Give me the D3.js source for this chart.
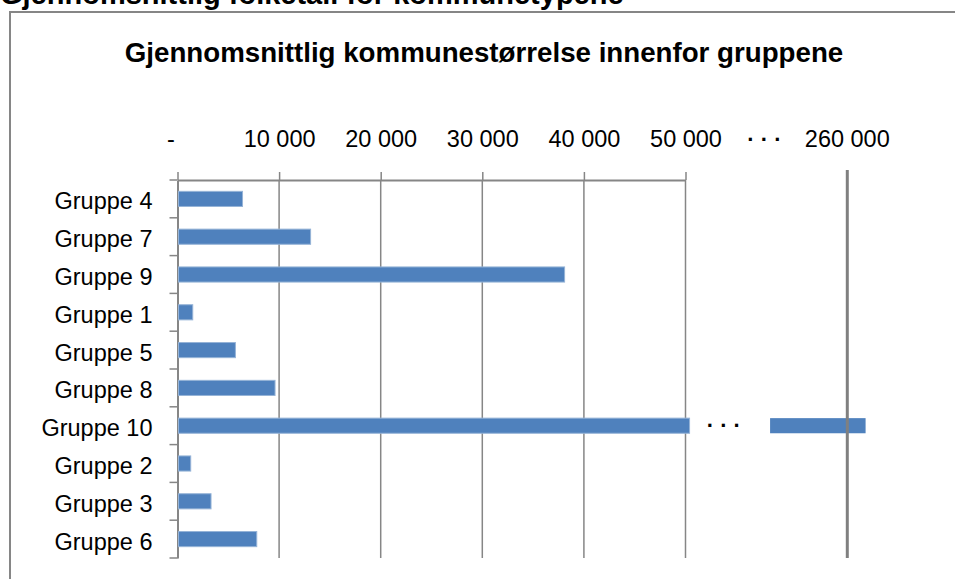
<!DOCTYPE html>
<meta charset="utf-8">
<script src="https://d3js.org/d3.v7.min.js"></script>
<style>
  body { margin: 0; background: #fff; }
  svg { display: block; font-family: "Liberation Sans", Arial, sans-serif; }
</style>
<div id="my_dataviz"></div>
<script>
// data
var categories = ["Gruppe 4", "Gruppe 7", "Gruppe 9", "Gruppe 1", "Gruppe 5",
                  "Gruppe 8", "Gruppe 10", "Gruppe 2", "Gruppe 3", "Gruppe 6"];
var values = [6400, 13100, 38100, 1500, 5700, 9600, 261800, 1300, 3300, 7800];
var lowTicks = [0, 10000, 20000, 30000, 40000, 50000];
var highTicks = [260000];
var breakLow = 50400, breakHigh = 252400;   // axis is cut between these

var pageTitle = "Gjennomsnittlig folketall for kommunetypene";
var chartTitle = "Gjennomsnittlig kommunestørrelse innenfor gruppene";

var W = 955, H = 579;
var svg = d3.select("#my_dataviz").append("svg")
    .attr("width", W).attr("height", H);

// text above the chart frame, cut off by the top of the page
svg.append("text")
    .attr("x", 0).attr("y", 4)
    .attr("font-size", "29px").attr("font-weight", "bold")
    .text(pageTitle);

// chart frame
svg.append("rect")
    .attr("x", 10).attr("y", 12)
    .attr("width", 1000).attr("height", 600)
    .attr("fill", "none").attr("stroke", "#868686").attr("stroke-width", 2);

svg.append("text")
    .attr("x", 484).attr("y", 62)
    .attr("text-anchor", "middle")
    .attr("font-size", "27.7px").attr("font-weight", "bold")
    .text(chartTitle);

var axisTop = 180, axisBottom = 558;

// scales: low part and high part share the same px per unit
var x = d3.scaleLinear().domain([0, 50000]).range([177.5, 685.5]);
var pxPerUnit = (x(50000) - x(0)) / 50000;
var x2 = d3.scaleLinear().domain([250000, 270000])
    .range([847.3 - 10000 * pxPerUnit, 847.3 + 10000 * pxPerUnit]);

var yb = d3.scaleBand().domain(categories).range([axisTop, axisBottom]);
var y = d3.scaleBand().domain(categories).range([axisTop, axisBottom])
    .paddingInner(0.6).paddingOuter(0.3);

var fmt = function(d) { return d === 0 ? "-" : d3.format(",")(d).replace(/,/g, " "); };

// gridlines
svg.append("g").selectAll("line")
    .data(lowTicks.slice(1))
    .enter().append("line")
    .attr("x1", d => x(d)).attr("x2", d => x(d))
    .attr("y1", axisTop).attr("y2", axisBottom)
    .attr("stroke", "#868686").attr("stroke-width", 1.5);

// top axis
var xAxis = svg.append("g")
    .attr("transform", "translate(0," + axisTop + ")")
    .call(d3.axisTop(x).tickValues(lowTicks).tickFormat(fmt)
        .tickSizeInner(8).tickSizeOuter(0).tickPadding(25));
xAxis.select(".domain").attr("stroke", "#868686").attr("stroke-width", 2);
xAxis.selectAll(".tick line").attr("stroke", "#868686").attr("stroke-width", 1.5);
xAxis.selectAll(".tick text")
    .attr("font-size", "23.5px").attr("fill", "#000").attr("font-family", null)
    .attr("dx", d => d === 0 ? -7 : 0);

svg.append("g").selectAll("text")
    .data(highTicks)
    .enter().append("text")
    .attr("x", d => x2(d)).attr("y", axisTop - 33)
    .attr("text-anchor", "middle").attr("font-size", "23.5px")
    .text(fmt);

// break marks on the axis
svg.append("text")
    .attr("x", (x(50000) + x2(260000)) / 2 - 2).attr("y", axisTop - 33)
    .attr("text-anchor", "middle").attr("font-size", "22px").attr("font-weight", "bold")
    .text("· · ·");

// left axis
var yAxis = svg.append("g")
    .attr("transform", "translate(" + x(0) + ",0)")
    .call(d3.axisLeft(yb).tickSize(0).tickPadding(25));
yAxis.select(".domain").attr("stroke", "#868686").attr("stroke-width", 2);
yAxis.selectAll(".tick text")
    .attr("font-size", "23.5px").attr("fill", "#000").attr("font-family", null)
    .attr("dy", "0.45em");

svg.append("g").selectAll("line")
    .data(categories.map(c => yb(c)).concat([axisBottom]))
    .enter().append("line")
    .attr("x1", x(0) - 8).attr("x2", x(0))
    .attr("y1", d => d).attr("y2", d => d)
    .attr("stroke", "#868686").attr("stroke-width", 1.5);

var rows = categories.map((c, i) => ({ cat: c, v: values[i] }));

// bars (low part)
svg.append("g").selectAll("rect")
    .data(rows)
    .enter().append("rect")
    .attr("x", x(0) + 1)
    .attr("y", d => y(d.cat))
    .attr("width", d => x(Math.min(d.v, breakLow)) - x(0) - 1)
    .attr("height", y.bandwidth())
    .attr("fill", "#4F81BD").attr("stroke", "#95b3d7").attr("stroke-width", 1);

// bars (high part)
var big = rows.filter(d => d.v > breakLow);
svg.append("g").selectAll("rect")
    .data(big)
    .enter().append("rect")
    .attr("x", x2(breakHigh))
    .attr("y", d => y(d.cat))
    .attr("width", d => x2(d.v) - x2(breakHigh))
    .attr("height", y.bandwidth())
    .attr("fill", "#4F81BD");

svg.append("g").selectAll("text")
    .data(big)
    .enter().append("text")
    .attr("x", (x(breakLow) + x2(breakHigh)) / 2 - 6)
    .attr("y", d => y(d.cat) + y.bandwidth() / 2 + 7)
    .attr("text-anchor", "middle").attr("font-size", "22px").attr("font-weight", "bold")
    .text("· · ·");

// high gridline, drawn over the bar as in the picture
svg.append("g").selectAll("line")
    .data(highTicks)
    .enter().append("line")
    .attr("x1", d => x2(d)).attr("x2", d => x2(d))
    .attr("y1", axisTop - 10).attr("y2", axisBottom)
    .attr("stroke", "#808080").attr("stroke-width", 3);
</script>
